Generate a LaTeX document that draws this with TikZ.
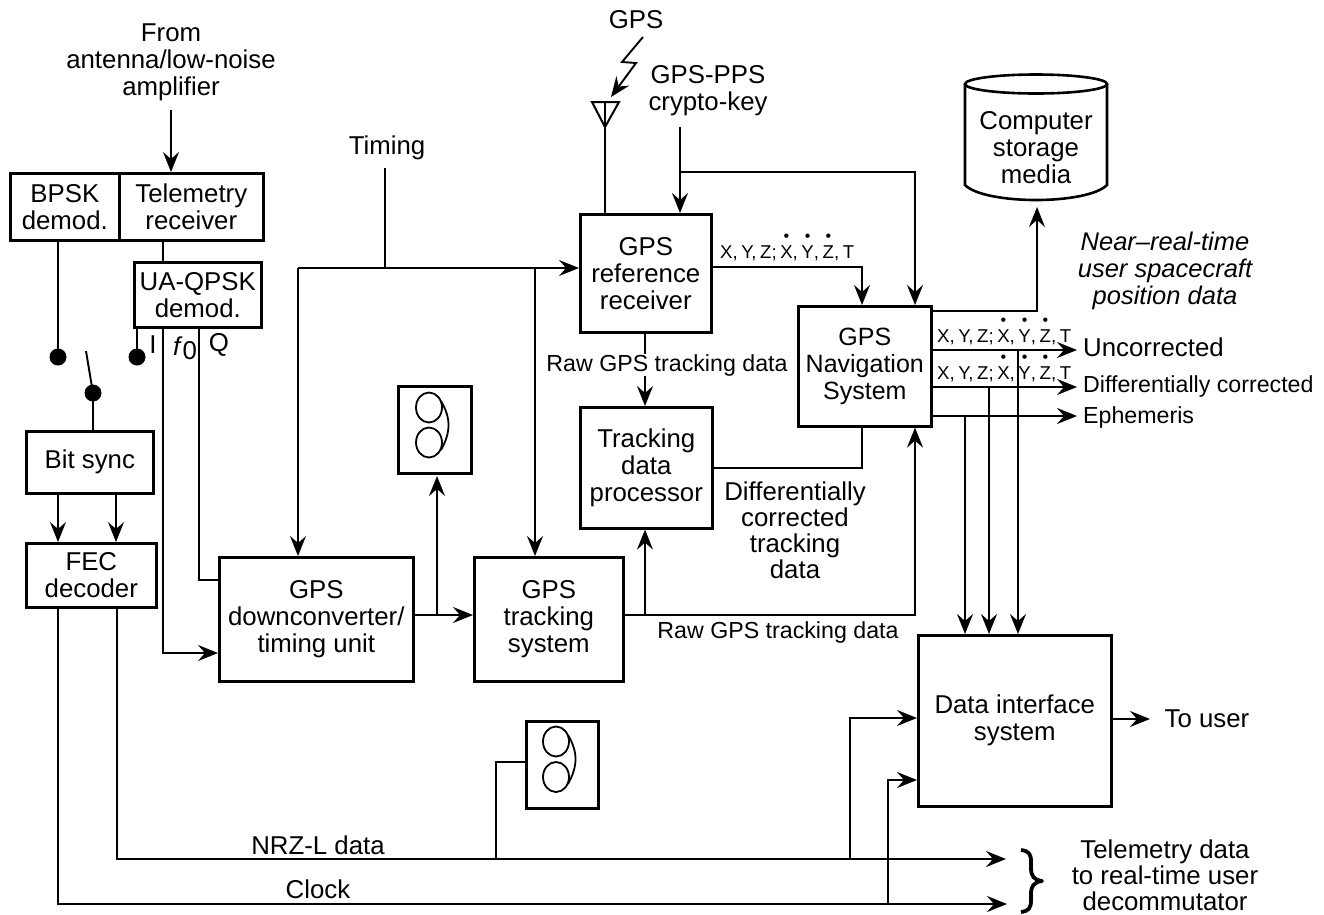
\documentclass[tikz,border=0pt]{standalone}
\usepackage{fontspec}
\setmainfont{Liberation Sans}
\usetikzlibrary{arrows.meta,calc,shapes.geometric}
\newcommand{\dotl}[1]{\ooalign{#1\cr\hidewidth\raisebox{16.5pt}{\fontsize{16}{16}\selectfont •}\hidewidth\cr}}
\newcommand{\gp}{\hspace{3.6pt}}
\newcommand{\xyz}{X,\gp Y,\gp Z;\gp\dotl{X},\gp\dotl{Y},\gp\dotl{Z},\gp T}
\tikzset{
  x=1pt,y=-1pt,
  fnt/.style={font=\fontsize{25.8}{27}\selectfont,align=center},
  lbl/.style={fnt,inner sep=0pt},
  small/.style={font=\fontsize{18.6}{20}\selectfont,inner sep=0pt},
  mid/.style={font=\fontsize{23.2}{27}\selectfont,inner sep=0pt},
  box/.style={draw,line width=2.6pt,fnt,inner sep=0pt,anchor=north west},
  line/.style={line width=1.9pt},
  arr/.style={line width=1.9pt,-{Stealth[length=20pt,width=16pt,inset=7pt]}},
  contact/.style={circle,fill=black,draw=none,minimum size=17pt,inner sep=0pt},
  tapebox/.style={draw,line width=2.6pt,anchor=north west,inner sep=0pt},
  reel/.style={draw,line width=1.8pt,ellipse,minimum width=26pt,minimum height=30pt,inner sep=0pt}
}
\begin{document}
\begin{tikzpicture}
\useasboundingbox (0,0) rectangle (1324,914);
% boxes
\node[box,minimum width=109pt,minimum height=67pt] (bpsk) at (9,172) {BPSK\\demod.};
\node[box,minimum width=144pt,minimum height=67pt] (telem) at (118,172) {Telemetry\\receiver};
\node[box,minimum width=127pt,minimum height=65pt] (qpsk) at (133,261) {UA-QPSK\\demod.};
\node[box,minimum width=127pt,minimum height=62pt] (bit) at (25,430) {Bit sync};
\node[box,minimum width=130pt,minimum height=64pt] (fec) at (25,542) {FEC\\decoder};
\node[box,minimum width=194pt,minimum height=124pt] (down) at (218,556) {GPS\\downconverter/\\timing unit};
\node[box,minimum width=149pt,minimum height=124pt] (trk) at (473,556) {GPS\\tracking\\system};
\node[box,minimum width=131pt,minimum height=118pt] (ref) at (579,213) {GPS\\reference\\receiver};
\node[box,minimum width=132pt,minimum height=121pt] (tdp) at (579,406) {Tracking\\data\\processor};
\node[box,minimum width=133pt,minimum height=120pt,font=\fontsize{25}{27}\selectfont] (nav) at (797,305) {GPS\\Navigation\\System};
\node[box,minimum width=193pt,minimum height=171pt] (dis) at (917,634) {Data interface\\system};
% tapes
\node[tapebox,minimum width=73pt,minimum height=87pt] (tape1) at (397,385) {};
\node[reel] (r1a) at (429,407.5) {};
\node[reel] (r1b) at (429,442.5) {};
\draw[line width=1.8pt] (441,401) .. controls (451,418) and (451,432) .. (441,450);
\node[tapebox,minimum width=72pt,minimum height=87pt] (tape2) at (525,720) {};
\node[reel] (r2a) at (556,741.5) {};
\node[reel] (r2b) at (556,777) {};
\draw[line width=1.8pt] (568,735) .. controls (578,752) and (578,766) .. (568,784);
% cylinder
\node[lbl,anchor=center] (cyl) at (1036,148) {Computer\\storage\\media};
\draw[line width=2.6pt] (965,84) -- (965,185) .. controls (985,205) and (1087,205) .. (1107,185) -- (1107,84);
\draw[line width=2.6pt] (1036,84) ellipse[x radius=71pt,y radius=9.5pt];
\coordinate (cylb) at (1037,207);
% switch
\node[contact] (c1) at (58,357) {};
\node[contact] (c2) at (137,357) {};
\node[contact] (c3) at (93,393) {};
\coordinate (sw) at (86,351);
\draw[line] (c3.center) -- (sw);
\draw[line] (c3.center) -- (c3 |- bit.north);
\draw[line] (c1 |- bpsk.south) -- (c1.center);
\draw[line] (c2 |- qpsk.south) -- (c2.center);
% antenna
\coordinate (anta) at (592,102);
\coordinate (antb) at (619,102);
\coordinate (antc) at (605,127);
\draw[line width=2pt,line join=miter] (anta) -- (antb) -- (antc) -- cycle;
\draw[line width=1.2pt] (605,102) -- (antc);
\draw[line] (antc) -- (antc |- ref.north);
\coordinate (bolta) at (643,37);
\coordinate (boltb) at (622,62);
\coordinate (boltc) at (636,63);
\coordinate (boltd) at (611,97);
\draw[arr] (bolta) -- (boltb) -- (boltc) -- (boltd);
% coordinates
\coordinate (fromb) at (171,110);
\coordinate (t1) at (385,168);
\coordinate (bus) at (385,268);
\coordinate (busl) at (298,268);
\coordinate (busm) at (535,268);
\coordinate (ck) at (680,127);
\coordinate (ckj) at (680,172);
\coordinate (ckr) at (915,172);
\coordinate (a) at (163,653);
\coordinate (b) at (199,580);
\coordinate (j1) at (437,615);
\coordinate (j2) at (645,615);
\coordinate (j3) at (915,615);
\coordinate (nt) at (1037,311);
\coordinate (o1) at (1077,350);
\coordinate (o2) at (1077,387);
\coordinate (o3) at (1077,416);
\coordinate (b1) at (965,416);
\coordinate (b2) at (989,387);
\coordinate (b3) at (1018,350);
\coordinate (n1) at (117,859);
\coordinate (n2) at (1006,859);
\coordinate (c01) at (58,904);
\coordinate (c02) at (1007,904);
\coordinate (m1) at (850,859);
\coordinate (m2) at (888,904);
\coordinate (m3) at (496,859);
% connectors
\draw[arr] (fromb) -- (fromb |- telem.north);
\draw[line] (a |- telem.south) -- (a |- qpsk.north);
\draw[arr] (a |- qpsk.south) -- (a) -- (down.west |- a);
\draw[line] (b |- qpsk.south) -- (b) -- (down.west |- b);
\draw[arr] (58,492) -- (58,542);
\draw[arr] (116,492) -- (116,542);
\draw[line] (t1) -- (bus);
\draw[arr] (busl) -- (ref.west |- busl);
\draw[arr] (busl) -- (busl |- down.north);
\draw[arr] (busm) -- (busm |- trk.north);
\draw[arr] (down.east |- j1) -- (trk.west |- j1);
\draw[arr] (j1) -- (437,476);
\draw[arr] (trk.east |- j2) -- (j3) -- (j3 |- nav.south);
\draw[arr] (j2) -- (j2 |- tdp.south);
\draw[arr] (ck) -- (ck |- ref.north);
\draw[arr] (ckj) -- (ckr) -- (ckr |- nav.north);
\draw[arr] (ref.east |- 0,267) -- (862,267) -- (862,305);
\draw[arr] (645,331) -- (645,406);
\draw[line] (tdp.east |- 0,468) -- (862,468) -- (862,425);
\draw[arr] (nav.east |- nt) -- (nt) -- (cylb);
\draw[arr] (nav.east |- o1) -- (o1);
\draw[arr] (nav.east |- o2) -- (o2);
\draw[arr] (nav.east |- o3) -- (o3);
\draw[arr] (b1) -- (b1 |- dis.north);
\draw[arr] (b2) -- (b2 |- dis.north);
\draw[arr] (b3) -- (b3 |- dis.north);
\draw[arr] (n1 |- fec.south) -- (n1) -- (n2);
\draw[arr] (c01 |- fec.south) -- (c01) -- (c02);
\draw[arr] (m1) -- (m1 |- 0,718) -- (dis.west |- 0,718);
\draw[arr] (m2) -- (m2 |- 0,780) -- (dis.west |- 0,780);
\draw[line] (m3) -- (m3 |- 0,762) -- (tape2.west |- 0,762);
\draw[arr] (dis.east |- 0,719) -- (1150,719);
% brace
\draw[line width=3.8pt,line join=round] (1021,850) .. controls (1029,851) and (1031,854) .. (1031,862) -- (1031,868) .. controls (1031,876) and (1034,880) .. (1042,881) .. controls (1034,882) and (1031,886) .. (1031,894) -- (1031,900) .. controls (1031,908) and (1029,911) .. (1021,912);
% texts
\node[lbl] (from) at (171,62) {From\\antenna/low-noise\\amplifier};
\node[lbl] (timing) at (387,148) {Timing};
\node[lbl] (gps) at (636,20) {GPS};
\node[lbl] (pps) at (708,91) {GPS-PPS\\crypto-key};
\node[lbl,font=\fontsize{25.5}{27}\selectfont\itshape] (near) at (1165,271) {Near--real-time\\user spacecraft\\position data};
\node[small,anchor=base west] (x1) at (720,258) {\xyz};
\node[small,anchor=base west] (x2) at (937,342) {\xyz};
\node[small,anchor=base west] (x3) at (937,379) {\xyz};
\node[lbl,anchor=west] (unc) at (1083,347) {Uncorrected};
\node[mid,anchor=west] (dc) at (1083,386) {Differentially corrected};
\node[mid,anchor=west] (eph) at (1083,417) {Ephemeris};
\node[mid,fill=white] (raw1) at (667,365) {Raw GPS tracking data};
\node[mid] (raw2) at (778,632) {Raw GPS tracking data};
\node[lbl,font=\fontsize{25.8}{26}\selectfont] (diff) at (795,530) {Differentially\\corrected\\tracking\\data};
\node[lbl] (i) at (153,345) {I};
\node[lbl] (f0) at (185,348) {\textit{f}\raisebox{-4pt}{0}};
\node[lbl] (q) at (219,345) {Q};
\node[lbl] (nrz) at (318,845) {NRZ-L data};
\node[lbl] (clk) at (318,889) {Clock};
\node[lbl] (touser) at (1207,719) {To user};
\node[lbl,font=\fontsize{25.8}{26}\selectfont] (tlm) at (1165,875) {Telemetry data\\to real-time user\\decommutator};
\end{tikzpicture}
\end{document}
